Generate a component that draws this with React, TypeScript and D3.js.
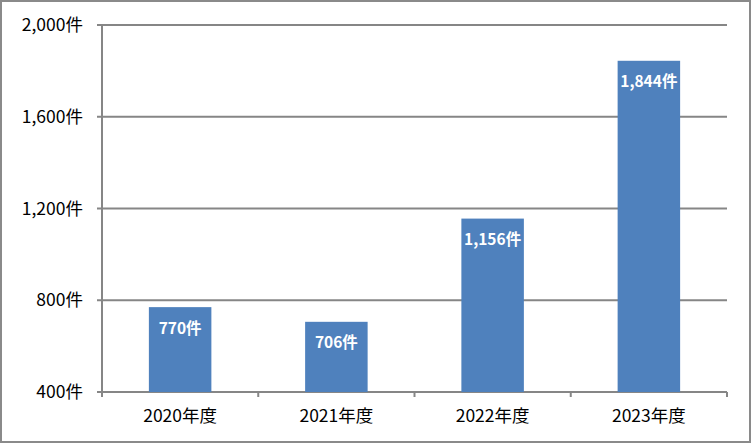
import React from "react";
import * as d3 from "d3";

const categories = ["2020年度", "2021年度", "2022年度", "2023年度"];
const values = [770, 706, 1156, 1844];
const yTicks = [400, 800, 1200, 1600, 2000];

const W = 751, H = 443;
const left = 102, right = 727, top = 25, bottom = 392;

export default function App() {
  const x = d3.scaleBand<string>().domain(categories).range([left, right]).paddingInner(0.6).paddingOuter(0.3);
  const xb = d3.scaleBand<string>().domain(categories).range([left, right]);
  const y = d3.scaleLinear().domain([400, 2000]).range([bottom, top]);
  const fmt = d3.format(",");
  const font = "'Noto Sans CJK JP', 'DejaVu Sans', sans-serif";
  return (
    <svg width={W} height={H} style={{ position: "absolute", left: 0, top: 0 }}>
      <rect x={1} y={1} width={W - 2} height={H - 2} fill="#fff" stroke="#8a8a8a" strokeWidth={2} />
      {yTicks.map((t) => (
        <g key={t}>
          <line x1={left - 5} x2={right} y1={y(t)} y2={y(t)} stroke="#868686" strokeWidth={2} />
          <text x={83} y={y(t)} dy="0.35em" textAnchor="end" fontFamily={font} fontSize={17.5} fill="#000">
            {fmt(t)}件
          </text>
        </g>
      ))}
      <line x1={left} x2={left} y1={top} y2={bottom + 5} stroke="#868686" strokeWidth={2} />
      {categories.map((c) => (
        <line key={c} x1={xb(c)! + xb.bandwidth()} x2={xb(c)! + xb.bandwidth()} y1={bottom} y2={bottom + 5} stroke="#868686" strokeWidth={2} />
      ))}
      {categories.map((c, i) => (
        <g key={c}>
          <rect x={x(c)} y={y(values[i])} width={x.bandwidth()} height={bottom - y(values[i])} fill="#4F81BD" />
          <text x={x(c)! + x.bandwidth() / 2} y={y(values[i]) + 21} dy="0.35em" textAnchor="middle" fontFamily={font} fontSize={15.5} fontWeight="bold" fill="#fff">
            {fmt(values[i])}件
          </text>
          <text x={xb(c)! + xb.bandwidth() / 2} y={416} dy="0.35em" textAnchor="middle" fontFamily={font} fontSize={17.5} fill="#000">
            {c}
          </text>
        </g>
      ))}
    </svg>
  );
}
